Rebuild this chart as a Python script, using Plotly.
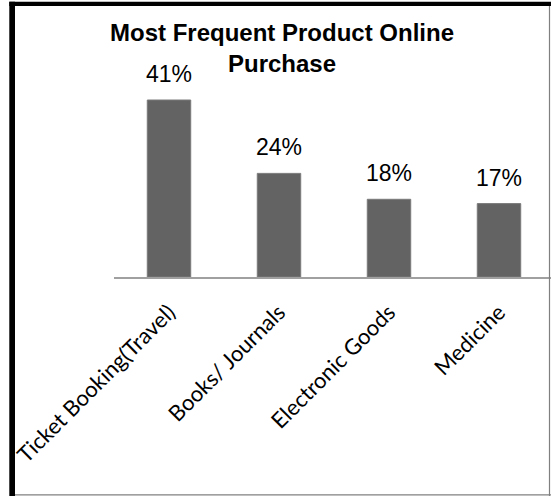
import plotly.graph_objects as go

# Survey results: share of respondents by most frequently purchased product online
categories = ["Ticket Booking(Travel)", "Books/ Journals", "Electronic Goods", "Medicine"]
shares = [41, 24, 18, 17]
value_labels = [f"{v}%" for v in shares]

W, H = 551, 496
M_L, M_R, M_T, M_B = 114, 0, 20, 219
PLOT_W = W - M_L - M_R
PLOT_H = H - M_T - M_B
PX_PER_PCT = 4.317
BAND = 110.0


def px_x(px):
    return (px - M_L) / PLOT_W


def px_y(py):
    return (H - M_B - py) / PLOT_H


fig = go.Figure()
fig.add_trace(go.Bar(
    x=categories,
    y=shares,
    marker=dict(color="#636363", line=dict(color="#7a7a7a", width=1)),
    width=0.395,
    hoverinfo="skip",
))

for cat, v, lab in zip(categories, shares, value_labels):
    fig.add_annotation(
        x=cat, y=v, text=lab, showarrow=False,
        yanchor="bottom", yshift=11,
        font=dict(family="Liberation Sans, Arial, sans-serif", size=23, color="#000000"),
    )

# Frame: heavy black left/top edges, thin grey right/bottom edges
fig.add_shape(type="rect", xref="paper", yref="paper",
              x0=px_x(9.3), x1=px_x(15), y0=px_y(H + 5), y1=px_y(1.7),
              fillcolor="#000000", line=dict(width=0), layer="above")
fig.add_shape(type="rect", xref="paper", yref="paper",
              x0=px_x(9.3), x1=px_x(W + 5), y0=px_y(6), y1=px_y(1.7),
              fillcolor="#000000", line=dict(width=0), layer="above")
fig.add_shape(type="line", xref="paper", yref="paper",
              x0=px_x(549.5), x1=px_x(549.5), y0=px_y(H), y1=px_y(6),
              line=dict(color="#808080", width=1.2))
fig.add_shape(type="line", xref="paper", yref="paper",
              x0=px_x(15), x1=px_x(W), y0=px_y(494.8), y1=px_y(494.8),
              line=dict(color="#808080", width=1.2))

fig.update_layout(
    width=W, height=H,
    margin=dict(l=M_L, r=M_R, t=M_T, b=M_B, autoexpand=False),
    paper_bgcolor="#ffffff", plot_bgcolor="#ffffff",
    showlegend=False,
    title=dict(
        text="<b>Most Frequent Product Online<br>Purchase</b>",
        x=282 / W, xanchor="center", xref="container",
        y=1 - 41 / H, yanchor="top", yref="container",
        font=dict(family="Liberation Sans, Arial, sans-serif", size=24, color="#000000"),
    ),
    xaxis=dict(
        range=[-0.5, -0.5 + PLOT_W / BAND],
        showline=True, linecolor="#a0a0a0", linewidth=1.5,
        showgrid=False, zeroline=False,
        ticks="outside", ticklen=12, tickcolor="rgba(0,0,0,0)",
        tickangle=-45,
        tickfont=dict(family="Lato, Open Sans, sans-serif", size=22, color="#000000"),
        automargin=False,
    ),
    yaxis=dict(
        range=[0, PLOT_H / PX_PER_PCT],
        visible=False, showgrid=False, zeroline=False,
    ),
)

fig.write_html("out.html")
